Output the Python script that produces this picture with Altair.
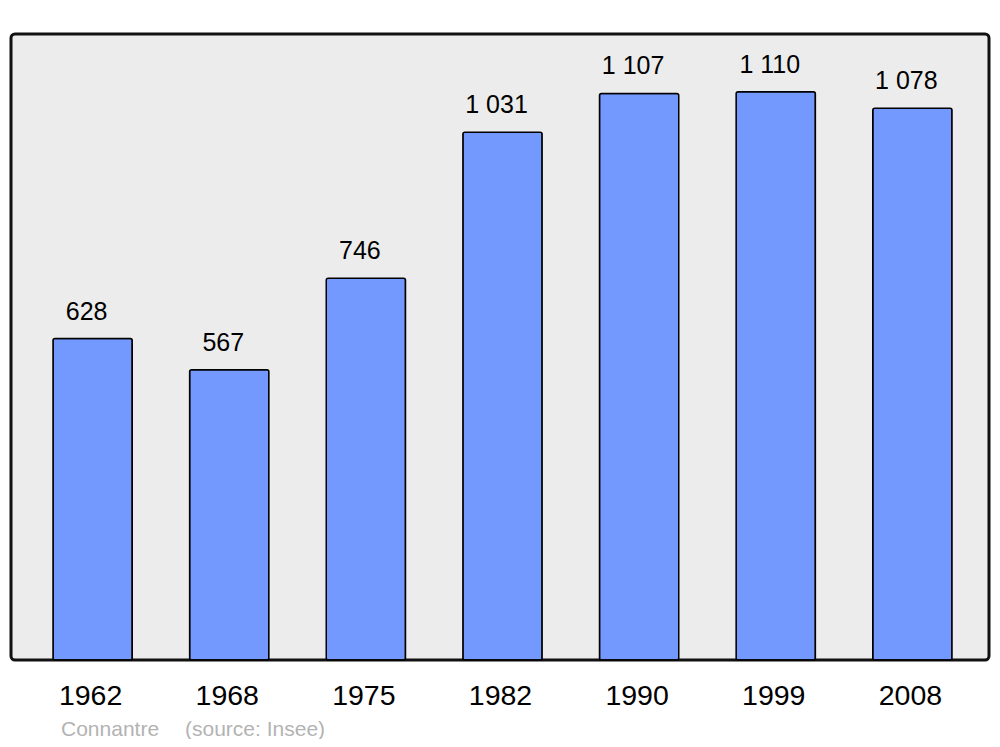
import altair as alt
import pandas as pd

years = ["1962", "1968", "1975", "1982", "1990", "1999", "2008"]
population = [628, 567, 746, 1031, 1107, 1110, 1078]
labels = ["628", "567", "746", "1 031", "1 107", "1 110", "1 078"]
source_name = "Connantre"
source_credit = "(source: Insee)"

df = pd.DataFrame({"year": years, "pop": population, "label": labels})

FONT = "Liberation Sans"

x = alt.X("year:N", sort=years, title=None,
          scale=alt.Scale(range=[42, 941], paddingInner=0.42, paddingOuter=0),
          axis=alt.Axis(labelAngle=0, labelFontSize=28.5, labelFont=FONT,
                        labelColor="#000000", ticks=False, domain=False,
                        labelPadding=21, labelOffset=-2, grid=False))
y = alt.Y("pop:Q", title=None, scale=alt.Scale(domain=[0, 1223], nice=False),
          axis=None)

bars = alt.Chart(df).mark_bar(color="#7399ff", stroke="#000000", strokeWidth=1.5,
                              cornerRadius=2).encode(x=x, y=y)
text = alt.Chart(df).mark_text(fontSize=25, font=FONT, color="#000000",
                               baseline="alphabetic", dy=-19, dx=-6).encode(
    x=alt.X("year:N", sort=years), y="pop:Q", text="label:N")
src1 = alt.Chart(pd.DataFrame({"t": [source_name]})).mark_text(
    fontSize=21, font=FONT, color="#b3b3b3", align="left", baseline="alphabetic"
).encode(x=alt.value(50), y=alt.value(702), text="t:N")
src2 = alt.Chart(pd.DataFrame({"t": [source_credit]})).mark_text(
    fontSize=21, font=FONT, color="#b3b3b3", align="left", baseline="alphabetic"
).encode(x=alt.value(174), y=alt.value(702), text="t:N")

chart = alt.layer(bars, text, src1, src2).properties(
    width=978, height=626,
    autosize=alt.AutoSizeParams(type="none"),
    padding={"left": 3, "top": 26, "right": 2, "bottom": 79},
    background="#ffffff",
).configure_view(fill="#ececec", stroke="#111111", strokeWidth=3, cornerRadius=4)

chart.save("out.html", embed_options={"renderer": "svg", "actions": False})
